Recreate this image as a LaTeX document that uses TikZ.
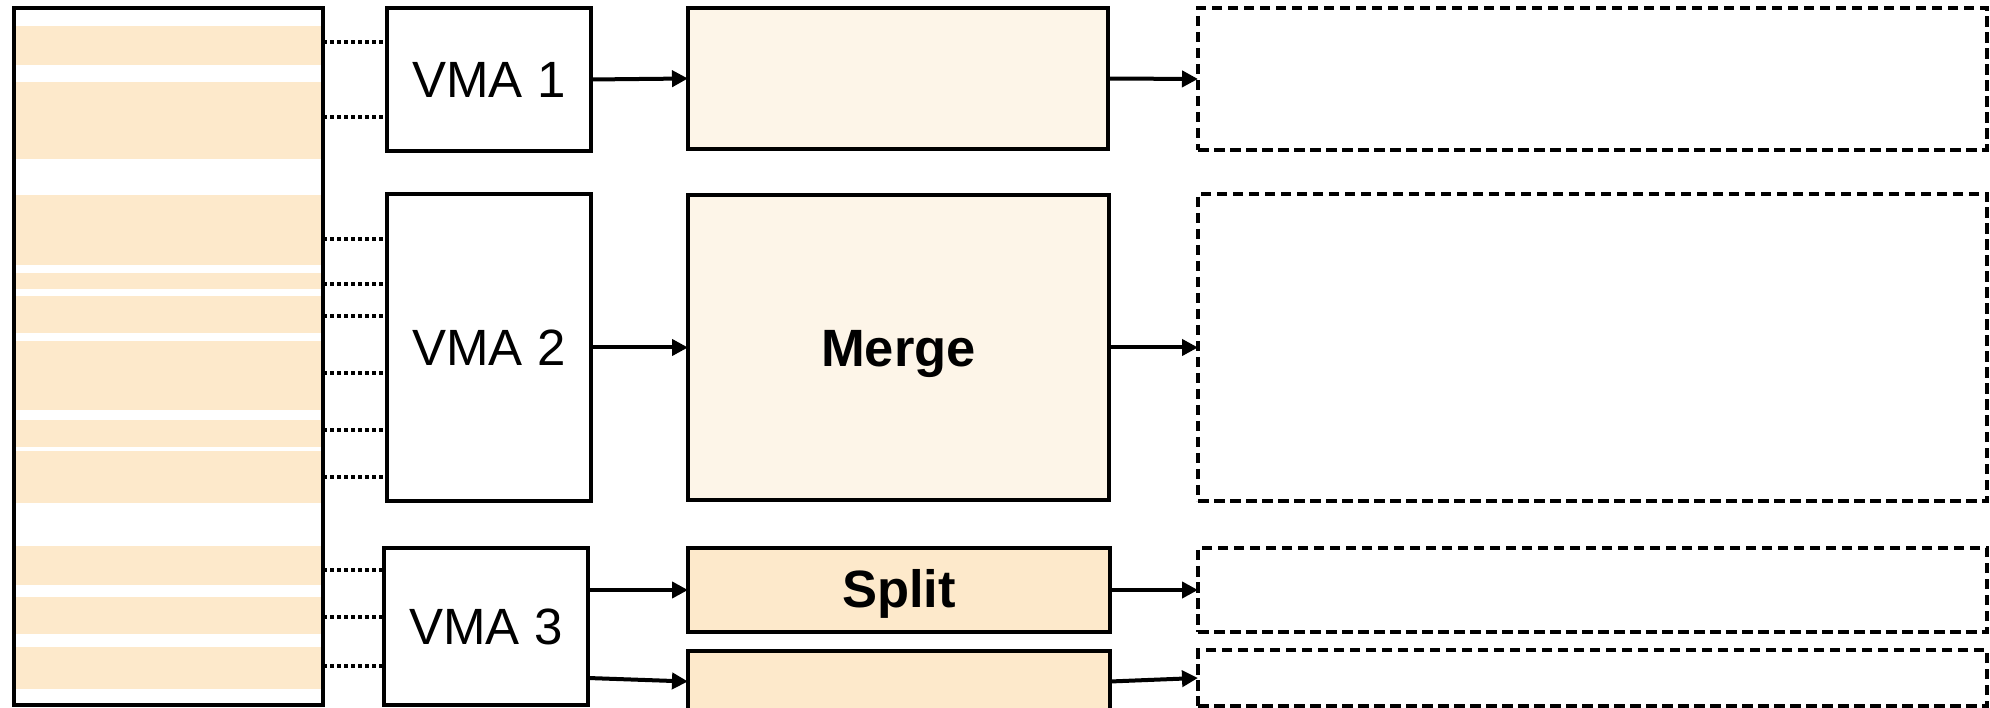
\documentclass[tikz,border=0pt]{standalone}
\usepackage{fontspec}
\setmainfont{Liberation Sans}
\usetikzlibrary{arrows.meta}

\definecolor{stripe}{HTML}{FDE9CB}
\definecolor{pale}{HTML}{FDF5E8}

\tikzset{
  box/.style={draw, line width=4.2pt, inner sep=0pt, outer sep=0pt},
  vmabox/.style={box, fill=white, font=\fontsize{51}{58}\selectfont},
  opbox/.style={box, fill=pale},
  opboxdark/.style={box, fill=stripe},
  optext/.style={font=\fontsize{52.5}{58}\selectfont\bfseries},
  outbox/.style={box, line width=4pt, dash pattern=on 10.5pt off 5.5pt},
  link/.style={line width=4.2pt, dash pattern=on 4pt off 3pt},
  flow/.style={line width=4pt, -{Triangle[length=16pt,width=16pt]}},
}

\begin{document}
\begin{tikzpicture}[x=1pt,y=-1pt]
\clip (0,0) rectangle (1990,708);
\fill[white] (0,0) rectangle (1990,708);

% address-space column: used ranges as stripes
\foreach \a/\b in {26/65, 82/159, 195/265, 273/289, 296/333, 341/410,
                   420/447, 451/503, 546/585, 597/634, 647/689}
  \fill[stripe] (16,\a) rectangle (321,\b);
\node[draw, line width=4.2pt, inner sep=0pt, outer sep=0pt,
      minimum width=309pt, minimum height=697pt] (col) at (168.5,356.5) {};

% VMA boxes
\node[vmabox, minimum width=204pt, minimum height=143pt] (vma1) at (489,79.5) {VMA 1};
\node[vmabox, minimum width=204pt, minimum height=307pt] (vma2) at (489,347.5) {VMA 2};
\node[vmabox, minimum width=204pt, minimum height=157pt] (vma3) at (486,626.5) {VMA 3};

% operation boxes
\node[opbox, minimum width=420pt, minimum height=141pt] (box1) at (898,78.5) {};
\node[opbox, minimum width=421pt, minimum height=305pt] (merge) at (898.5,347.5) {};
\node[optext] (mergelabel) at ([yshift=-7pt]merge.center) {Merge};
\node[opboxdark, minimum width=422pt, minimum height=84pt] (split) at (899,590) {};
\node[optext] (splitlabel) at ([yshift=-4pt]split.center) {Split};
\node[opboxdark, minimum width=422pt, minimum height=61pt] (low) at (899,681.5) {};

% result boxes
\node[outbox, minimum width=789pt, minimum height=142pt] (d1) at (1592.5,79) {};
\node[outbox, minimum width=789pt, minimum height=307pt] (d2) at (1592.5,347.5) {};
\node[outbox, minimum width=789pt, minimum height=84pt] (d3) at (1592.5,590) {};
\node[outbox, minimum width=789pt, minimum height=56pt] (d4) at (1592.5,678) {};

% links from address ranges to VMAs
\foreach \y in {42,117}
  \draw[link] (col.east |- 0,\y) -- (vma1.west |- 0,\y);
\foreach \y in {239,284,316,373,430,477}
  \draw[link] (col.east |- 0,\y) -- (vma2.west |- 0,\y);
\foreach \y in {570,617,666}
  \draw[link] (col.east |- 0,\y) -- (vma3.west |- 0,\y);

% flow arrows
\draw[flow] (vma1.east) -- (box1.west);
\draw[flow] (vma2.east) -- (merge.west);
\draw[flow] (vma3.east |- split.west) -- (split.west);
\draw[flow] (vma3.east |- 0,678) -- (low.west);
\draw[flow] (box1.east) -- (d1.west);
\draw[flow] (merge.east) -- (d2.west);
\draw[flow] (split.east) -- (d3.west);
\draw[flow] (low.east) -- (d4.west);
\end{tikzpicture}
\end{document}
